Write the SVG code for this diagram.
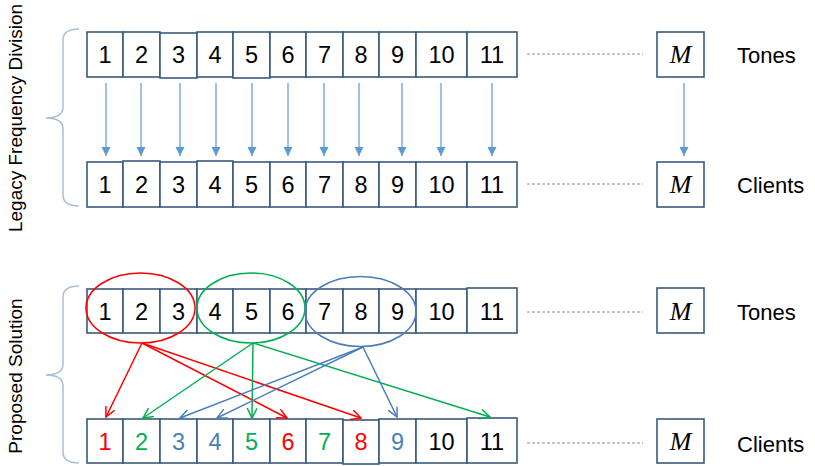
<svg xmlns="http://www.w3.org/2000/svg" width="815" height="466" viewBox="0 0 815 466">
<style>
.b{fill:#fff;stroke:#3a5b7c;stroke-width:1.6}
.t{font-family:"Liberation Sans",Arial,sans-serif;font-size:23.5px;text-anchor:middle;fill:#000}
.lbl{font-family:"Liberation Sans",Arial,sans-serif;font-size:22px;fill:#000}
.side{font-family:"Liberation Sans",Arial,sans-serif;font-size:19px;fill:#000;text-anchor:middle}
.m{font-family:"Liberation Serif","Times New Roman",serif;font-style:italic;font-size:26px;text-anchor:middle;fill:#000}
.dash{stroke:#8c8c8c;stroke-width:1;stroke-dasharray:3 2;fill:none}
.brace{fill:none;stroke:#a9bfd8;stroke-width:1.5}
.la{stroke:#5b9bd5;stroke-width:1.2;fill:none}
.r{fill:#ff0000}.g{fill:#00b050}.bl{fill:#4a7ebb}
.ar{stroke:#ff0000;stroke-width:1.5;fill:none}
.ag{stroke:#00b050;stroke-width:1.5;fill:none}
.ab{stroke:#4a7ebb;stroke-width:1.5;fill:none}
</style>
<defs>
<marker id="mf" markerUnits="userSpaceOnUse" markerWidth="10" markerHeight="10" refX="9" refY="4.5" orient="auto"><path d="M0,0 L9,4.5 L0,9 Z" fill="#5b9bd5"/></marker>
<marker id="mr" markerUnits="userSpaceOnUse" markerWidth="12" markerHeight="12" refX="10" refY="5" orient="auto"><path d="M0,0 L10,5 L0,10" fill="none" stroke="#ff0000" stroke-width="1.5"/></marker>
<marker id="mg" markerUnits="userSpaceOnUse" markerWidth="12" markerHeight="12" refX="10" refY="5" orient="auto"><path d="M0,0 L10,5 L0,10" fill="none" stroke="#00b050" stroke-width="1.5"/></marker>
<marker id="mb" markerUnits="userSpaceOnUse" markerWidth="12" markerHeight="12" refX="10" refY="5" orient="auto"><path d="M0,0 L10,5 L0,10" fill="none" stroke="#4a7ebb" stroke-width="1.5"/></marker>
</defs>

<g id="side-labels">
<text class="side" transform="translate(22,118) rotate(-90)">Legacy Frequency Division</text>
<text class="side" transform="translate(22,376) rotate(-90)">Proposed Solution</text>
<path class="brace" d="M79,29 Q63,29 63,40 L63,107 Q63,118 46,118 Q63,118 63,129 L63,195 Q63,206 79,206"/>
<path class="brace" d="M79,286 Q63,286 63,297 L63,364 Q63,375 46,375 Q63,375 63,386 L63,452 Q63,463 79,463"/>
</g>

<g id="legacy-tones">
<g id="lt1"><rect class="b" x="87" y="32" width="36" height="45"/><text class="t" x="105" y="63">1</text></g>
<g id="lt2"><rect class="b" x="123" y="32" width="37" height="45"/><text class="t" x="141.5" y="63">2</text></g>
<g id="lt3"><rect class="b" x="160" y="33" width="37" height="45"/><text class="t" x="178.5" y="63">3</text></g>
<g id="lt4"><rect class="b" x="197" y="32" width="36" height="45"/><text class="t" x="215" y="63">4</text></g>
<g id="lt5"><rect class="b" x="233" y="32" width="37" height="46"/><text class="t" x="251.5" y="63">5</text></g>
<g id="lt6"><rect class="b" x="270" y="32" width="36" height="45"/><text class="t" x="288" y="63">6</text></g>
<g id="lt7"><rect class="b" x="306" y="32" width="37" height="45"/><text class="t" x="324.5" y="63">7</text></g>
<g id="lt8"><rect class="b" x="343" y="32" width="36" height="45"/><text class="t" x="361" y="63">8</text></g>
<g id="lt9"><rect class="b" x="379" y="32" width="37" height="45"/><text class="t" x="397.5" y="63">9</text></g>
<g id="lt10"><rect class="b" x="416" y="32" width="51" height="45"/><text class="t" x="441.5" y="63">10</text></g>
<g id="lt11"><rect class="b" x="467" y="32" width="50" height="45"/><text class="t" x="492" y="63">11</text></g>
<g id="ltM"><rect class="b" x="657" y="32" width="47" height="45"/><text class="m" x="680.5" y="63">M</text></g>
<text class="lbl" x="737" y="63">Tones</text>
</g>

<g id="legacy-clients">
<g id="lc1"><rect class="b" x="87" y="162" width="36" height="45"/><text class="t" x="105" y="193">1</text></g>
<g id="lc2"><rect class="b" x="123" y="161" width="37" height="46"/><text class="t" x="141.5" y="193">2</text></g>
<g id="lc3"><rect class="b" x="160" y="162" width="37" height="45"/><text class="t" x="178.5" y="193">3</text></g>
<g id="lc4"><rect class="b" x="197" y="161" width="36" height="46"/><text class="t" x="215" y="193">4</text></g>
<g id="lc5"><rect class="b" x="233" y="162" width="37" height="45"/><text class="t" x="251.5" y="193">5</text></g>
<g id="lc6"><rect class="b" x="270" y="162" width="36" height="45"/><text class="t" x="288" y="193">6</text></g>
<g id="lc7"><rect class="b" x="306" y="162" width="37" height="45"/><text class="t" x="324.5" y="193">7</text></g>
<g id="lc8"><rect class="b" x="343" y="162" width="36" height="45"/><text class="t" x="361" y="193">8</text></g>
<g id="lc9"><rect class="b" x="379" y="162" width="37" height="45"/><text class="t" x="397.5" y="193">9</text></g>
<g id="lc10"><rect class="b" x="416" y="162" width="51" height="45"/><text class="t" x="441.5" y="193">10</text></g>
<g id="lc11"><rect class="b" x="467" y="162" width="50" height="45"/><text class="t" x="492" y="193">11</text></g>
<g id="lcM"><rect class="b" x="657" y="162" width="47" height="45"/><text class="m" x="680.5" y="193">M</text></g>
<text class="lbl" x="737" y="193">Clients</text>
</g>

<g id="proposed-tones">
<g id="pt1"><rect class="b" x="87" y="289" width="36" height="44"/><text class="t" x="105" y="320">1</text></g>
<g id="pt2"><rect class="b" x="123" y="289" width="37" height="44"/><text class="t" x="141.5" y="320">2</text></g>
<g id="pt3"><rect class="b" x="160" y="289" width="37" height="44"/><text class="t" x="178.5" y="320">3</text></g>
<g id="pt4"><rect class="b" x="197" y="289" width="36" height="44"/><text class="t" x="215" y="320">4</text></g>
<g id="pt5"><rect class="b" x="233" y="289" width="37" height="44"/><text class="t" x="251.5" y="320">5</text></g>
<g id="pt6"><rect class="b" x="270" y="289" width="36" height="44"/><text class="t" x="288" y="320">6</text></g>
<g id="pt7"><rect class="b" x="306" y="289" width="37" height="44"/><text class="t" x="324.5" y="320">7</text></g>
<g id="pt8"><rect class="b" x="343" y="289" width="36" height="44"/><text class="t" x="361" y="320">8</text></g>
<g id="pt9"><rect class="b" x="379" y="289" width="37" height="44"/><text class="t" x="397.5" y="320">9</text></g>
<g id="pt10"><rect class="b" x="416" y="289" width="51" height="44"/><text class="t" x="441.5" y="320">10</text></g>
<g id="pt11"><rect class="b" x="467" y="288" width="50" height="45"/><text class="t" x="492" y="320">11</text></g>
<g id="ptM"><rect class="b" x="657" y="288" width="47" height="45"/><text class="m" x="680.5" y="320">M</text></g>
<text class="lbl" x="737" y="320">Tones</text>
</g>

<g id="groups">
<ellipse cx="140.5" cy="308" rx="54.5" ry="35" fill="none" stroke="#ff0000" stroke-width="1.5"/>
<ellipse cx="251" cy="308" rx="54" ry="35" fill="none" stroke="#00b050" stroke-width="1.5"/>
<ellipse cx="360.5" cy="311.5" rx="55.5" ry="35" fill="none" stroke="#4a7ebb" stroke-width="1.5"/>
</g>

<g id="proposed-clients">
<g id="pc1"><rect class="b" x="87" y="419" width="36" height="44"/><text class="t r" x="105" y="450">1</text></g>
<g id="pc2"><rect class="b" x="123" y="419" width="37" height="44"/><text class="t g" x="141.5" y="450">2</text></g>
<g id="pc3"><rect class="b" x="160" y="419" width="37" height="44"/><text class="t bl" x="178.5" y="450">3</text></g>
<g id="pc4"><rect class="b" x="197" y="419" width="36" height="44"/><text class="t bl" x="215" y="450">4</text></g>
<g id="pc5"><rect class="b" x="233" y="419" width="37" height="44"/><text class="t g" x="251.5" y="450">5</text></g>
<g id="pc6"><rect class="b" x="270" y="419" width="36" height="44"/><text class="t r" x="288" y="450">6</text></g>
<g id="pc7"><rect class="b" x="306" y="419" width="37" height="44"/><text class="t g" x="324.5" y="450">7</text></g>
<g id="pc8"><rect class="b" x="343" y="420" width="36" height="44"/><text class="t r" x="361" y="450">8</text></g>
<g id="pc9"><rect class="b" x="379" y="419" width="37" height="44"/><text class="t bl" x="397.5" y="450">9</text></g>
<g id="pc10"><rect class="b" x="416" y="419" width="51" height="44"/><text class="t" x="441.5" y="450">10</text></g>
<g id="pc11"><rect class="b" x="467" y="418" width="50" height="45"/><text class="t" x="492" y="450">11</text></g>
<g id="pcM"><rect class="b" x="657" y="419" width="47" height="44"/><text class="m" x="680.5" y="450">M</text></g>
<text class="lbl" x="737" y="452">Clients</text>
</g>

<g id="connectors">
<line class="dash" x1="527" y1="54" x2="643" y2="54"/>
<line class="dash" x1="527" y1="184" x2="643" y2="184"/>
<line class="dash" x1="527" y1="312" x2="643" y2="312"/>
<line class="dash" x1="527" y1="443" x2="643" y2="443"/>
<g marker-end="url(#mf)">
<line class="la" x1="106" y1="83" x2="106" y2="156"/>
<line class="la" x1="141" y1="83" x2="141" y2="156"/>
<line class="la" x1="180" y1="83" x2="180" y2="156"/>
<line class="la" x1="216" y1="83" x2="216" y2="156"/>
<line class="la" x1="252" y1="83" x2="252" y2="156"/>
<line class="la" x1="288" y1="83" x2="288" y2="156"/>
<line class="la" x1="324" y1="83" x2="324" y2="156"/>
<line class="la" x1="359" y1="83" x2="359" y2="156"/>
<line class="la" x1="402" y1="83" x2="402" y2="156"/>
<line class="la" x1="441" y1="83" x2="441" y2="156"/>
<line class="la" x1="492" y1="83" x2="492" y2="156"/>
<line class="la" x1="684" y1="83" x2="684" y2="156"/>
</g>
<g marker-end="url(#mr)">
<line class="ar" x1="142" y1="343" x2="106" y2="417"/>
<line class="ar" x1="142" y1="343" x2="287" y2="418"/>
<line class="ar" x1="142" y1="343" x2="361" y2="418"/>
</g>
<g marker-end="url(#mg)">
<line class="ag" x1="253" y1="343" x2="143" y2="418"/>
<line class="ag" x1="253" y1="343" x2="252" y2="418"/>
<line class="ag" x1="253" y1="343" x2="490" y2="417"/>
</g>
<g marker-end="url(#mb)">
<line class="ab" x1="363" y1="347" x2="180" y2="418"/>
<line class="ab" x1="363" y1="347" x2="217" y2="418"/>
<line class="ab" x1="363" y1="347" x2="397" y2="417"/>
</g>
</g>
</svg>
